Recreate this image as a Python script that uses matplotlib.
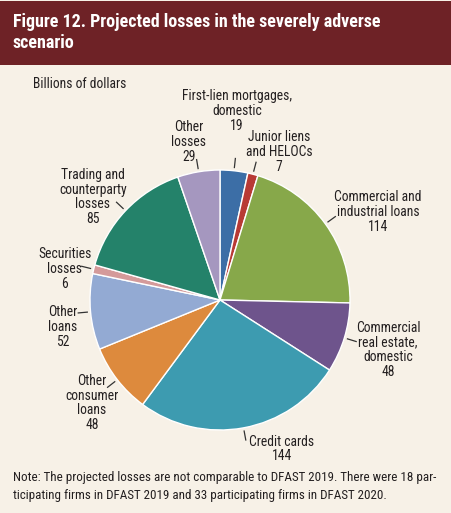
import numpy as np
import matplotlib
matplotlib.use("Agg")
import matplotlib.pyplot as plt

# ---- data (billions of dollars), clockwise from 12 o'clock ----
categories = [
    "First-lien mortgages,\ndomestic",
    "Junior liens\nand HELOCs",
    "Commercial and\nindustrial loans",
    "Commercial\nreal estate,\ndomestic",
    "Credit cards",
    "Other\nconsumer\nloans",
    "Other\nloans",
    "Securities\nlosses",
    "Trading and\ncounterparty\nlosses",
    "Other\nlosses",
]
losses = [19, 7, 114, 48, 144, 48, 52, 6, 85, 29]
colors = ["#3c6ea6", "#b83a35", "#87a84a", "#6e548c", "#3d9bb0",
          "#dd8a3d", "#93aad3", "#d49a9a", "#24826a", "#a597bf"]

title_lines = ["Figure 12. Projected losses in the severely adverse", "scenario"]
note_lines = ["Note: The projected losses are not comparable to DFAST 2019. There were 18 par-",
              "ticipating firms in DFAST 2019 and 33 participating firms in DFAST 2020."]

# label block centres in pixels (layout only)
label_xy = [(237, 111), (279, 152), (378, 212), (388, 350), (282, 449),
            (92, 403), (63, 327), (65, 269), (93, 197), (189, 142)]
LINE_H = 14.7

W, H = 452, 513
BG = "#f7f1e7"
HEADER = "#6e2226"
TXT = "#231f20"
FONT = dict(family=["Roboto Condensed", "DejaVu Sans"], stretch="condensed")

fig = plt.figure(figsize=(W / 100, H / 100), dpi=100, facecolor=BG)

def fx(x):
    return x / W

def fy(y):
    return 1 - y / H

# header band
fig.patches.append(plt.Rectangle((0, fy(65)), 1, 64 / H, transform=fig.transFigure,
                                 facecolor=HEADER, edgecolor="none", zorder=0))
for line, y in zip(title_lines, [22, 43]):
    fig.text(fx(13), fy(y), line, color="white", fontsize=13, fontweight="bold",
             ha="left", va="center", **FONT)

fig.text(fx(33), fy(84), "Billions of dollars", color=TXT, fontsize=9.8,
         ha="left", va="center", **FONT)

# pie: centre (220, 300) px, radius 130 px
cx, cy, r = 220, 300, 130
ax = fig.add_axes([fx(cx - r), fy(cy + r), 2 * r / W, 2 * r / H])
ax.set_facecolor("none")
wedges, _ = ax.pie(losses, colors=colors, startangle=90, counterclock=False,
                   radius=1, wedgeprops=dict(edgecolor="white", linewidth=1))
ax.set_xlim(-1, 1)
ax.set_ylim(-1, 1)
ax.set_aspect("auto")
ax.axis("off")

# leader lines at wedge mid-angles
for w in wedges:
    mid = np.deg2rad((w.theta1 + w.theta2) / 2)
    r0, r1 = 1.025, 1.095
    ax.plot([r0 * np.cos(mid), r1 * np.cos(mid)], [r0 * np.sin(mid), r1 * np.sin(mid)],
            color="#333333", lw=0.9, clip_on=False)

# labels, one text per line so the blocks stay compact
for name, val, (x, y) in zip(categories, losses, label_xy):
    lines = name.split("\n") + [str(val)]
    y0 = y - LINE_H * (len(lines) - 1) / 2
    for i, line in enumerate(lines):
        fig.text(fx(x), fy(y0 + i * LINE_H), line, color=TXT, fontsize=9.8,
                 ha="center", va="center", **FONT)

for line, y in zip(note_lines, [477, 495]):
    fig.text(fx(13), fy(y), line, color=TXT, fontsize=9.4, ha="left", va="center", **FONT)

fig.savefig("out.png", dpi=100, facecolor=BG)
